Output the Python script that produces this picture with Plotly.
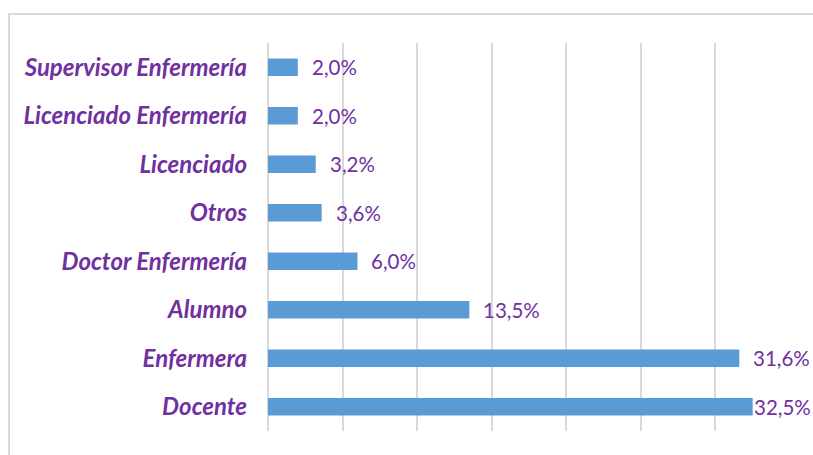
import plotly.graph_objects as go

categories = ["Docente", "Enfermera", "Alumno", "Doctor Enfermería", "Otros",
              "Licenciado", "Licenciado Enfermería", "Supervisor Enfermería"]
values = [32.5, 31.6, 13.5, 6.0, 3.6, 3.2, 2.0, 2.0]

PURPLE = "#7030a0"
BAR = "#5b9bd5"
GRID = "#d9d9d9"
FONT = "Lato"

W, H = 813, 455
L, R, T, B = 268, 23, 43, 24

fig = go.Figure()
fig.add_trace(go.Bar(
    y=categories, x=values, orientation="h",
    marker=dict(color=BAR, line=dict(width=0)),
    width=0.36, hoverinfo="skip",
))

for c, v in zip(categories, values):
    txt = f"{v:.1f}".replace(".", ",") + "%"
    fig.add_annotation(x=v, y=c, text=txt, showarrow=False,
                       xanchor="left", yanchor="middle",
                       xshift=-1 if v > 32 else 12,
                       font=dict(family=FONT, size=20.5, color=PURPLE))

pw, ph = W - L - R, H - T - B
def px_x(p): return (p - L) / pw
def px_y(p): return (H - B - p) / ph

fig.add_shape(type="rect", xref="paper", yref="paper",
              x0=px_x(9), x1=px_x(830), y0=px_y(470), y1=px_y(14),
              line=dict(color=GRID, width=2), layer="below")

fig.update_layout(
    width=W, height=H,
    margin=dict(l=L, r=R, t=T, b=B),
    paper_bgcolor="white", plot_bgcolor="white",
    showlegend=False, bargap=0.64,
    xaxis=dict(range=[0, 35], dtick=5, tick0=0, showticklabels=False,
               showgrid=True, gridcolor=GRID, gridwidth=1.5,
               zeroline=True, zerolinecolor=GRID, zerolinewidth=1.5,
               showline=False, fixedrange=True),
    yaxis=dict(categoryorder="array", categoryarray=categories,
               showgrid=False, showline=False, ticks="",
               ticklabelstandoff=20,
               tickfont=dict(family=FONT, size=24, color=PURPLE,
                             style="italic", weight="bold"),
               fixedrange=True),
)

fig.write_html("out.html")
